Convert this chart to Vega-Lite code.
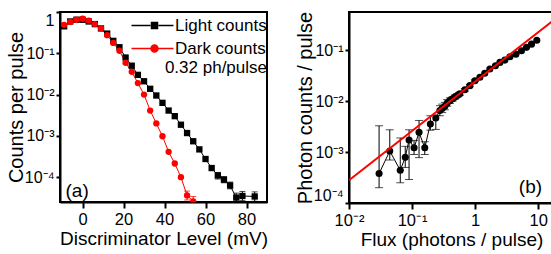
{
  "$schema": "https://vega.github.io/schema/vega-lite/v6.json",
  "padding": {"left": 5, "top": 10, "right": 0, "bottom": 0},
  "background": "white",
  "spacing": 25,
  "config": {
    "font": "Liberation Sans",
    "view": {"stroke": "black", "strokeWidth": 2},
    "axis": {"domainColor": "black", "domainWidth": 2, "tickColor": "black", "tickWidth": 2, "tickSize": 5, "grid": false, "labelColor": "black", "titleColor": "black", "labelFont": "Liberation Sans", "labelFontSize": 16.5, "titleFontWeight": "normal", "titleFontSize": 19, "titleFont": "Liberation Sans"},
    "axisY": {"titleFontSize": 20, "labelFontSize": 16, "labelPadding": 2, "titlePadding": -2, "tickSize": 4, "labelFlush": true},
    "axisX": {"labelFlush": false, "labelPadding": 3, "titlePadding": 2, "tickSize": 6},
    "legend": {"labelFont": "Liberation Sans", "labelFontSize": 17, "titleFont": "Liberation Sans", "titleFontSize": 17, "titleFontWeight": "normal", "titleColor": "black"}
  },
  "hconcat": [
    {
      "width": 207,
      "height": 190,
      "data": {"values": [
        {"s": "Light counts", "mv": -9, "c": 0.45},
        {"s": "Light counts", "mv": -6, "c": 0.59},
        {"s": "Light counts", "mv": -3, "c": 0.65},
        {"s": "Light counts", "mv": 0, "c": 0.65},
        {"s": "Light counts", "mv": 3, "c": 0.59},
        {"s": "Light counts", "mv": 6, "c": 0.51},
        {"s": "Light counts", "mv": 9, "c": 0.40},
        {"s": "Light counts", "mv": 12, "c": 0.30},
        {"s": "Light counts", "mv": 15, "c": 0.20},
        {"s": "Light counts", "mv": 18, "c": 0.14},
        {"s": "Light counts", "mv": 21, "c": 0.079},
        {"s": "Light counts", "mv": 24, "c": 0.050},
        {"s": "Light counts", "mv": 27, "c": 0.030},
        {"s": "Light counts", "mv": 30, "c": 0.021},
        {"s": "Light counts", "mv": 33, "c": 0.0138},
        {"s": "Light counts", "mv": 36, "c": 0.0095},
        {"s": "Light counts", "mv": 39, "c": 0.0063},
        {"s": "Light counts", "mv": 42, "c": 0.0041},
        {"s": "Light counts", "mv": 45, "c": 0.0030},
        {"s": "Light counts", "mv": 48, "c": 0.00186},
        {"s": "Light counts", "mv": 51, "c": 0.00117},
        {"s": "Light counts", "mv": 54, "c": 0.00074},
        {"s": "Light counts", "mv": 57, "c": 0.00047},
        {"s": "Light counts", "mv": 60, "c": 0.000275},
        {"s": "Light counts", "mv": 63, "c": 0.000166},
        {"s": "Light counts", "mv": 66, "c": 0.00011, "lo": 0.00009, "hi": 0.00013},
        {"s": "Light counts", "mv": 69, "c": 0.000087, "lo": 0.000073, "hi": 0.000103},
        {"s": "Light counts", "mv": 72, "c": 0.000063, "lo": 0.000052, "hi": 0.000076},
        {"s": "Light counts", "mv": 75, "c": 0.000032, "lo": 0.000025, "hi": 0.000041},
        {"s": "Light counts", "mv": 78, "c": 0.000035, "lo": 0.000027, "hi": 0.000045},
        {"s": "Light counts", "mv": 84, "c": 0.000034, "lo": 0.000026, "hi": 0.000044},
        {"s": "Dark counts", "mv": -9, "c": 0.49},
        {"s": "Dark counts", "mv": -6, "c": 0.575},
        {"s": "Dark counts", "mv": -3, "c": 0.65},
        {"s": "Dark counts", "mv": 0, "c": 0.69},
        {"s": "Dark counts", "mv": 3, "c": 0.62},
        {"s": "Dark counts", "mv": 6, "c": 0.51},
        {"s": "Dark counts", "mv": 9, "c": 0.40},
        {"s": "Dark counts", "mv": 12, "c": 0.275},
        {"s": "Dark counts", "mv": 15, "c": 0.178},
        {"s": "Dark counts", "mv": 18, "c": 0.115},
        {"s": "Dark counts", "mv": 21, "c": 0.059},
        {"s": "Dark counts", "mv": 24, "c": 0.0355},
        {"s": "Dark counts", "mv": 27, "c": 0.019},
        {"s": "Dark counts", "mv": 30, "c": 0.010},
        {"s": "Dark counts", "mv": 33, "c": 0.0041},
        {"s": "Dark counts", "mv": 36, "c": 0.0020},
        {"s": "Dark counts", "mv": 39, "c": 0.00098},
        {"s": "Dark counts", "mv": 42, "c": 0.00041},
        {"s": "Dark counts", "mv": 45, "c": 0.000214},
        {"s": "Dark counts", "mv": 48, "c": 0.0001},
        {"s": "Dark counts", "mv": 51, "c": 0.000036, "lo": 0.000028, "hi": 0.000046},
        {"s": "Dark counts", "mv": 54, "c": 0.000026, "lo": 0.000025, "hi": 0.000034}
      ]},
      "layer": [
        {
          "mark": {"type": "line", "strokeWidth": 1, "clip": true},
          "encoding": {
            "x": {"field": "mv", "type": "quantitative", "title": "Discriminator Level (mV)", "scale": {"domain": [-11, 90], "nice": false, "zero": false}, "axis": {"values": [0, 20, 40, 60, 80]}},
            "y": {"field": "c", "type": "quantitative", "title": "Counts per pulse", "scale": {"type": "log", "domain": [0.000025, 1], "nice": false}, "axis": {"values": [1, 0.1, 0.01, 0.001, 0.0001], "labelExpr": "datum.value >= 0.5 ? '1' : datum.value >= 0.05 ? '10⁻¹' : datum.value >= 0.005 ? '10⁻²' : datum.value >= 0.0005 ? '10⁻³' : '10⁻⁴'"}},
            "color": {"field": "s", "type": "nominal", "title": "0.32 ph/pulse", "scale": {"domain": ["Light counts", "Dark counts"], "range": ["black", "red"]},
              "legend": {
                "orient": "none", "legendX": 86, "legendY": 5, "padding": 0,
                "title": "0.32 ph/pulse", "titleOrient": "bottom", "titleAnchor": "end", "titlePadding": 3,
                "labelOffset": 12, "symbolSize": 100, "rowPadding": 5, "symbolType": "M-4.6,0H-0.8M0.8,0H3.8M-0.6,-0.6H0.6V0.6H-0.6Z",
                "encoding": {
                  "symbols": {"update": {
                    "fill": {"signal": "datum.value === 'Dark counts' ? 'red' : 'black'"},
                    "stroke": {"signal": "datum.value === 'Dark counts' ? 'red' : 'black'"},
                    "strokeWidth": {"value": 1},
                    "opacity": {"value": 1}
                  }},
                  "labels": {"update": {"fill": {"signal": "datum.value === 'Dark counts' ? 'red' : 'black'"}}}
                }
              }
            }
          }
        },
        {
          "transform": [{"filter": "datum.mv > 1000"}],
          "mark": {"type": "point", "filled": true, "size": 40, "opacity": 0},
          "encoding": {
            "x": {"field": "mv", "type": "quantitative", "title": "Discriminator Level (mV)"},
            "y": {"field": "c", "type": "quantitative", "title": "Counts per pulse"},
            "color": {"field": "s", "type": "nominal", "title": "0.32 ph/pulse"},
            "shape": {"field": "s", "type": "nominal", "title": "0.32 ph/pulse", "scale": {"domain": ["Light counts", "Dark counts"], "range": ["M-4.6,0H-0.8M0.8,0H3.8M-0.6,-0.6H0.6V0.6H-0.6Z", "M-4.6,0H-0.8M0.8,0H3.8M-0.7,0A0.7,0.7,0,1,0,0.7,0A0.7,0.7,0,1,0,-0.7,0Z"]},
              "legend": {
                "orient": "none", "legendX": 86, "legendY": 5, "padding": 0,
                "title": "0.32 ph/pulse", "titleOrient": "bottom", "titleAnchor": "end", "titlePadding": 3,
                "labelOffset": 12, "symbolSize": 100, "rowPadding": 5
              }
            }
          }
        },
        {
          "transform": [{"filter": "datum.s === 'Light counts'"}],
          "mark": {"type": "point", "filled": true, "size": 40, "opacity": 1, "shape": "square", "clip": true},
          "encoding": {
            "x": {"field": "mv", "type": "quantitative", "title": "Discriminator Level (mV)"},
            "y": {"field": "c", "type": "quantitative", "title": "Counts per pulse"},
            "color": {"field": "s", "type": "nominal", "title": "0.32 ph/pulse"}
          }
        },
        {
          "transform": [{"filter": "datum.s === 'Dark counts'"}],
          "mark": {"type": "point", "filled": true, "size": 40, "opacity": 1, "shape": "circle", "clip": true},
          "encoding": {
            "x": {"field": "mv", "type": "quantitative", "title": "Discriminator Level (mV)"},
            "y": {"field": "c", "type": "quantitative", "title": "Counts per pulse"},
            "color": {"field": "s", "type": "nominal", "title": "0.32 ph/pulse"}
          }
        },
        {
          "transform": [{"filter": "isValid(datum.lo)"}],
          "mark": {"type": "errorbar", "ticks": {"size": 6}, "thickness": 1},
          "encoding": {
            "x": {"field": "mv", "type": "quantitative", "title": "Discriminator Level (mV)"},
            "y": {"field": "lo", "type": "quantitative", "title": "Counts per pulse"},
            "y2": {"field": "hi"},
            "color": {"field": "s", "type": "nominal", "title": "0.32 ph/pulse"}
          }
        },
        {
          "data": {"values": [{"mv": -8.3, "c": 0.000045, "t": "(a)"}]},
          "mark": {"type": "text", "align": "left", "baseline": "middle", "fontSize": 19, "font": "Liberation Sans", "color": "black"},
          "encoding": {
            "x": {"field": "mv", "type": "quantitative", "title": "Discriminator Level (mV)"},
            "y": {"field": "c", "type": "quantitative", "title": "Counts per pulse"},
            "text": {"field": "t"}
          }
        }
      ]
    },
    {
      "width": 205,
      "height": 191,
      "data": {"values": [
        {"f": 0.030, "p": 0.00038, "lo": 0.0002, "hi": 0.0033},
        {"f": 0.0443, "p": 0.00105, "lo": 0.0007, "hi": 0.00275},
        {"f": 0.065, "p": 0.00044, "lo": 0.00025, "hi": 0.0019},
        {"f": 0.078, "p": 0.00079, "lo": 0.0005, "hi": 0.0013},
        {"f": 0.0896, "p": 0.00174, "lo": 0.00029, "hi": 0.00275},
        {"f": 0.1076, "p": 0.00122, "lo": 0.0009, "hi": 0.0017},
        {"f": 0.129, "p": 0.00245, "lo": 0.00078, "hi": 0.0042},
        {"f": 0.159, "p": 0.00122, "lo": 0.0009, "hi": 0.0016},
        {"f": 0.195, "p": 0.00359, "lo": 0.0027, "hi": 0.0052},
        {"f": 0.238, "p": 0.0047, "lo": 0.0028, "hi": 0.0053},
        {"f": 0.276, "p": 0.0066, "lo": 0.0052, "hi": 0.0082},
        {"f": 0.30, "p": 0.0072, "lo": 0.0060, "hi": 0.0088},
        {"f": 0.331, "p": 0.0080, "lo": 0.0068, "hi": 0.0095},
        {"f": 0.36, "p": 0.0092, "lo": 0.0080, "hi": 0.0108},
        {"f": 0.398, "p": 0.0103, "lo": 0.0091, "hi": 0.0117},
        {"f": 0.44, "p": 0.0112, "lo": 0.0101, "hi": 0.0124},
        {"f": 0.477, "p": 0.0121, "lo": 0.0110, "hi": 0.0133},
        {"f": 0.52, "p": 0.0130, "lo": 0.0120, "hi": 0.0141},
        {"f": 0.571, "p": 0.0141, "lo": 0.0131, "hi": 0.0152},
        {"f": 0.687, "p": 0.0168, "lo": 0.0158, "hi": 0.0178},
        {"f": 0.824, "p": 0.0203, "lo": 0.0193, "hi": 0.0213},
        {"f": 0.99, "p": 0.0254, "lo": 0.0244, "hi": 0.0264},
        {"f": 1.19, "p": 0.0296},
        {"f": 1.42, "p": 0.0355},
        {"f": 1.71, "p": 0.0431},
        {"f": 2.10, "p": 0.050},
        {"f": 2.47, "p": 0.0582},
        {"f": 2.96, "p": 0.0645},
        {"f": 3.56, "p": 0.0752},
        {"f": 4.43, "p": 0.0846},
        {"f": 5.43, "p": 0.0986},
        {"f": 6.52, "p": 0.115},
        {"f": 7.83, "p": 0.133},
        {"f": 9.5, "p": 0.159}
      ]},
      "layer": [
        {
          "mark": {"type": "line", "strokeWidth": 1, "color": "black", "clip": true},
          "encoding": {
            "x": {"field": "f", "type": "quantitative", "title": "Flux (photons / pulse)", "scale": {"type": "log", "domain": [0.01, 17.8], "nice": false}, "axis": {"values": [0.01, 0.1, 1, 10], "labelExpr": "datum.value >= 5 ? '10' : datum.value >= 0.5 ? '1' : datum.value >= 0.05 ? '10⁻¹' : '10⁻²'"}},
            "y": {"field": "p", "type": "quantitative", "title": "Photon counts / pulse", "scale": {"type": "log", "domain": [0.0001, 0.57], "nice": false}, "axis": {"values": [0.1, 0.01, 0.001, 0.0001], "labelExpr": "datum.value >= 0.05 ? '10⁻¹' : datum.value >= 0.005 ? '10⁻²' : datum.value >= 0.0005 ? '10⁻³' : '10⁻⁴'"}}
          }
        },
        {
          "transform": [{"filter": "isValid(datum.lo)"}],
          "mark": {"type": "errorbar", "ticks": {"size": 8}, "thickness": 1, "color": "black"},
          "encoding": {
            "x": {"field": "f", "type": "quantitative", "title": "Flux (photons / pulse)"},
            "y": {"field": "lo", "type": "quantitative", "title": "Photon counts / pulse"},
            "y2": {"field": "hi"}
          }
        },
        {
          "mark": {"type": "point", "filled": true, "size": 50, "opacity": 1, "color": "black", "shape": "circle", "clip": true},
          "encoding": {
            "x": {"field": "f", "type": "quantitative", "title": "Flux (photons / pulse)"},
            "y": {"field": "p", "type": "quantitative", "title": "Photon counts / pulse"}
          }
        },
        {
          "data": {"values": [{"f": 0.01, "p": 0.00028}, {"f": 17.8, "p": 0.40}]},
          "mark": {"type": "line", "strokeWidth": 2, "color": "red", "clip": true},
          "encoding": {
            "x": {"field": "f", "type": "quantitative", "title": "Flux (photons / pulse)"},
            "y": {"field": "p", "type": "quantitative", "title": "Photon counts / pulse"}
          }
        },
        {
          "data": {"values": [{"f": 11.5, "p": 0.00021, "t": "(b)"}]},
          "mark": {"type": "text", "align": "right", "baseline": "middle", "fontSize": 19, "font": "Liberation Sans", "color": "black"},
          "encoding": {
            "x": {"field": "f", "type": "quantitative", "title": "Flux (photons / pulse)"},
            "y": {"field": "p", "type": "quantitative", "title": "Photon counts / pulse"},
            "text": {"field": "t"}
          }
        }
      ]
    }
  ]
}
